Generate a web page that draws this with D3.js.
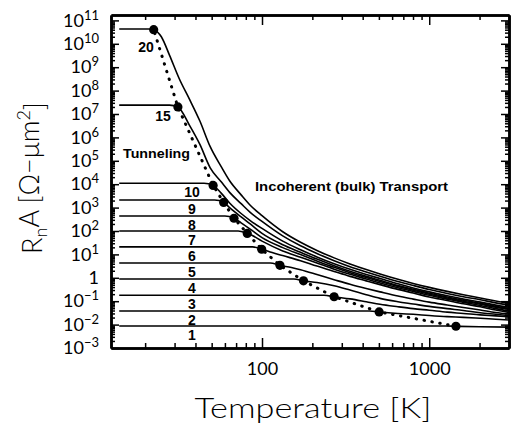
<!DOCTYPE html>
<html>
<head>
<meta charset="utf-8">
<script src="https://cdn.jsdelivr.net/npm/d3@7"></script>
<style>
body { margin: 0; background: #fff; }
svg { display: block; }
</style>
</head>
<body>
<svg width="519" height="430"></svg>
<script>
// barrier thickness of each curve (used as its label)
const thickness = ['1', '2', '3', '4', '5', '6', '7', '8', '9', '10', '15', '20'];

// curves: [temperature (K), RnA (ohm-um^2)]
const curve1 = [[14, 0.0087], [1250, 0.0087], [1445, 0.0085], [2000, 0.0081], [3000, 0.0078]];
const curve2 = [[14, 0.038], [440, 0.038], [502, 0.0347], [650, 0.030], [802, 0.0275], [1000, 0.0245],
  [1280, 0.0219], [1600, 0.0204], [2020, 0.0186], [2500, 0.017], [3000, 0.0158]];
const curve3 = [[14, 0.18], [235, 0.18], [270, 0.155], [336, 0.126], [420, 0.095], [508, 0.074], [650, 0.058],
  [802, 0.048], [1000, 0.041], [1280, 0.034], [1600, 0.030], [2020, 0.026], [2500, 0.0235], [3000, 0.0214]];
const curve4 = [[14, 0.89], [155, 0.89], [177, 0.74], [213, 0.63], [270, 0.457], [336, 0.30], [420, 0.19],
  [508, 0.132], [650, 0.095], [802, 0.076], [1000, 0.060], [1280, 0.048], [1600, 0.040], [2020, 0.032],
  [2500, 0.0275], [3000, 0.024]];
const curve5 = [[14, 4.3], [112, 4.3], [128, 3.4], [150, 2.75], [170, 2.2], [213, 1.38], [270, 0.83], [336, 0.525],
  [420, 0.347], [508, 0.25], [650, 0.166], [802, 0.123], [1000, 0.091], [1280, 0.069], [1600, 0.054],
  [2020, 0.042], [2500, 0.033], [3000, 0.028]];
const curve6 = [[14, 21], [88, 21], [99.6, 16.6], [115, 12], [133, 8.9], [170, 5.4], [213, 3.16], [270, 1.86],
  [336, 1.15], [420, 0.74], [508, 0.51], [650, 0.32], [802, 0.224], [1000, 0.151], [1280, 0.107],
  [1600, 0.078], [2020, 0.058], [2500, 0.042], [3000, 0.033]];
const curve7 = [[14, 100], [72, 100], [81.6, 79], [85, 71], [100, 37], [133, 14.1], [170, 7.6], [213, 4.3],
  [270, 2.34], [336, 1.41], [420, 0.89], [508, 0.60], [650, 0.376], [802, 0.263], [1000, 0.178],
  [1280, 0.123], [1600, 0.089], [2020, 0.066], [2500, 0.048], [3000, 0.038]];
const curve8 = [[14, 440], [60, 440], [68, 350], [75, 224], [85, 120], [100, 52], [133, 19.5], [170, 9.8],
  [213, 5.25], [270, 2.8], [336, 1.66], [420, 1.02], [508, 0.69], [650, 0.43], [802, 0.295], [1000, 0.20],
  [1280, 0.138], [1600, 0.10], [2020, 0.074], [2500, 0.055], [3000, 0.044]];
const curve9 = [[14, 2100], [52, 2100], [59, 1660], [64, 1000], [75, 400], [85, 200], [100, 79], [133, 26],
  [170, 12.3], [213, 6.3], [270, 3.3], [336, 1.9], [420, 1.15], [508, 0.78], [650, 0.47], [802, 0.324],
  [1000, 0.219], [1280, 0.151], [1600, 0.11], [2020, 0.081], [2500, 0.060], [3000, 0.049]];
const curve10 = [[14, 1.1e4], [45, 1.1e4], [51, 8900], [57, 4170], [64, 1580], [75, 560], [85, 280], [100, 129],
  [133, 37], [170, 15.8], [213, 7.8], [270, 4.0], [336, 2.3], [420, 1.38], [508, 0.93], [650, 0.555],
  [802, 0.37], [1000, 0.25], [1280, 0.17], [1600, 0.123], [2020, 0.091], [2500, 0.068], [3000, 0.055]];
const curve15 = [[14, 2.4e7], [28, 2.4e7], [31.4, 2.0e7], [37, 3.1e6], [42.5, 5.0e5], [49, 5.0e4], [57, 1.26e4],
  [64, 4470], [75, 1480], [85, 630], [100, 257], [133, 62], [170, 23.4], [213, 11], [270, 5.4], [336, 3.0],
  [420, 1.78], [508, 1.17], [650, 0.70], [802, 0.47], [1000, 0.316], [1280, 0.214], [1600, 0.155],
  [2020, 0.115], [2500, 0.085], [3000, 0.069]];
const curve20 = [[14, 4.3e10], [21, 4.3e10], [22.5, 4.0e10], [25, 2.0e10], [28, 3.2e9], [32, 3.2e8], [37, 4.0e7],
  [42.5, 5.0e6], [49, 4.0e5], [57, 5.6e4], [64, 1.4e4], [75, 3500], [85, 1260], [100, 450], [133, 93],
  [170, 33], [213, 14.8], [270, 7.1], [336, 3.9], [420, 2.24], [508, 1.45], [650, 0.86], [802, 0.575],
  [1000, 0.39], [1280, 0.263], [1600, 0.19], [2020, 0.138], [2500, 0.102], [3000, 0.081]];

const curves = [curve1, curve2, curve3, curve4, curve5, curve6, curve7, curve8, curve9, curve10, curve15, curve20];

// crossover points (filled circles, joined by the dotted line)
const dotT = [1445, 502, 270, 177, 128, 99.6, 81.6, 68, 59, 51, 31.4, 22.5];
const dotRA = [0.0085, 0.0347, 0.155, 0.74, 3.4, 16.6, 79, 350, 1660, 8900, 2.0e7, 4.0e10];

// axis ticks
const yMajor = [1e-3, 1e-2, 1e-1, 1, 10, 100, 1e3, 1e4, 1e5, 1e6, 1e7, 1e8, 1e9, 1e10, 1e11];
const xMajor = [100, 1000];

const svg = d3.select('svg');

const x = d3.scaleLog().domain([12.5, 3000]).range([111, 509]);
const y = d3.scaleLog().domain([1e-3, 1.7e11]).range([348, 15]);

const yMinor = [];
yMajor.forEach(v => { for (let k = 2; k <= 9; k++) { if (v * k < 1.7e11) yMinor.push(v * k); } });
const xMinor = [20, 30, 40, 50, 60, 70, 80, 90, 200, 300, 400, 500, 600, 700, 800, 900, 2000, 3000];

const line = d3.line()
  .x(d => x(d[0]))
  .y(d => y(d[1]))
  .curve(d3.curveMonotoneX);

// curves
svg.append('g')
  .selectAll('path')
  .data(curves)
  .enter()
  .append('path')
  .attr('d', line)
  .attr('fill', 'none')
  .attr('stroke', '#000')
  .attr('stroke-width', 1.6);

// dotted crossover line
const dots = dotT.map((t, i) => [t, dotRA[i]]);
svg.append('path')
  .attr('d', d3.line().x(d => x(d[0])).y(d => y(d[1]))(dots))
  .attr('fill', 'none')
  .attr('stroke', '#000')
  .attr('stroke-width', 3)
  .attr('stroke-linecap', 'round')
  .attr('stroke-dasharray', '0.5,7.5');

svg.append('g')
  .selectAll('circle')
  .data(dots)
  .enter()
  .append('circle')
  .attr('cx', d => x(d[0]))
  .attr('cy', d => y(d[1]))
  .attr('r', 4.6)
  .attr('fill', '#000');

// curve labels, sitting just under each flat part
const labelX = i => i === 11 ? 146 : i === 10 ? 163 : 192;
const labelDy = i => i === 11 ? 23 : i === 10 ? 16 : 14;
svg.append('g')
  .selectAll('text')
  .data(thickness)
  .enter()
  .append('text')
  .attr('x', (d, i) => labelX(i))
  .attr('y', (d, i) => y(curves[i][0][1]) + labelDy(i))
  .attr('text-anchor', 'middle')
  .attr('font-family', 'Liberation Sans, Arial, sans-serif')
  .attr('font-weight', 'bold')
  .attr('font-size', 14)
  .text(d => d);

svg.append('text')
  .attr('x', 123).attr('y', 158)
  .attr('font-family', 'Liberation Sans, Arial, sans-serif')
  .attr('font-weight', 'bold')
  .attr('font-size', 13)
  .attr('textLength', 67)
  .attr('lengthAdjust', 'spacingAndGlyphs')
  .text('Tunneling');

svg.append('text')
  .attr('x', 255).attr('y', 191)
  .attr('font-family', 'Liberation Sans, Arial, sans-serif')
  .attr('font-weight', 'bold')
  .attr('font-size', 13)
  .attr('textLength', 193)
  .attr('lengthAdjust', 'spacingAndGlyphs')
  .text('Incoherent (bulk) Transport');

// axes with inward ticks on all four sides
const axisFont = 'Lato, "DejaVu Sans", sans-serif';
const styleAxis = g => {
  g.select('.domain').attr('stroke-width', 2.5);
  g.selectAll('.tick line').attr('stroke-width', 1.5);
};

const expLabel = function(d) {
  const t = d3.select(this);
  t.text(null);
  const e = Math.round(Math.log10(d));
  if (e === 0) { t.text('1'); return; }
  t.append('tspan').text('10');
  t.append('tspan').attr('dy', '-0.55em').attr('font-size', 13).text(e < 0 ? '\u2212' + (-e) : e);
};

svg.append('g')
  .attr('transform', 'translate(111,0)')
  .call(d3.axisLeft(y).tickValues(yMinor).tickSize(-4).tickFormat('').tickSizeOuter(0))
  .call(styleAxis);
svg.append('g')
  .attr('transform', 'translate(111,0)')
  .call(d3.axisLeft(y).tickValues(yMajor).tickSize(-8).tickPadding(12).tickSizeOuter(0))
  .call(styleAxis)
  .call(g => g.selectAll('text')
    .attr('font-family', axisFont)
    .attr('font-size', 18)
    .attr('fill', '#000')
    .each(expLabel));

svg.append('g')
  .attr('transform', 'translate(509,0)')
  .call(d3.axisRight(y).tickValues(yMinor).tickSize(-4).tickFormat('').tickSizeOuter(0))
  .call(styleAxis);
svg.append('g')
  .attr('transform', 'translate(509,0)')
  .call(d3.axisRight(y).tickValues(yMajor).tickSize(-8).tickFormat('').tickSizeOuter(0))
  .call(styleAxis);

svg.append('g')
  .attr('transform', 'translate(0,348)')
  .call(d3.axisBottom(x).tickValues(xMinor).tickSize(-5).tickFormat('').tickSizeOuter(0))
  .call(styleAxis);
svg.append('g')
  .attr('transform', 'translate(0,348)')
  .call(d3.axisBottom(x).tickValues(xMajor).tickSize(-10).tickPadding(14).tickFormat(d3.format('d')).tickSizeOuter(0))
  .call(styleAxis)
  .call(g => g.selectAll('text')
    .attr('font-family', axisFont)
    .attr('font-size', 18)
    .attr('fill', '#000'));

svg.append('g')
  .attr('transform', 'translate(0,15)')
  .call(d3.axisTop(x).tickValues(xMinor).tickSize(-5).tickFormat('').tickSizeOuter(0))
  .call(styleAxis);
svg.append('g')
  .attr('transform', 'translate(0,15)')
  .call(d3.axisTop(x).tickValues(xMajor).tickSize(-10).tickFormat('').tickSizeOuter(0))
  .call(styleAxis);

// axis titles
svg.append('text')
  .attr('x', 313).attr('y', 418)
  .attr('text-anchor', 'middle')
  .attr('font-family', axisFont)
  .attr('font-weight', 300)
  .attr('font-size', 27)
  .attr('textLength', 237)
  .attr('lengthAdjust', 'spacingAndGlyphs')
  .text('Temperature [K]');

const yTitle = svg.append('text')
  .attr('transform', 'translate(42,178) rotate(-90)')
  .attr('text-anchor', 'middle')
  .attr('font-family', axisFont)
  .attr('font-weight', 300)
  .attr('font-size', 27);
yTitle.append('tspan').text('R');
yTitle.append('tspan').attr('dy', '0.3em').attr('font-size', 18).text('n');
yTitle.append('tspan').attr('dy', '-0.3em').text('A [\u03A9\u2212\u03BCm');
yTitle.append('tspan').attr('dy', '-0.5em').attr('font-size', 18).text('2');
yTitle.append('tspan').attr('dy', '0.5em').text(']');
</script>
</body>
</html>
